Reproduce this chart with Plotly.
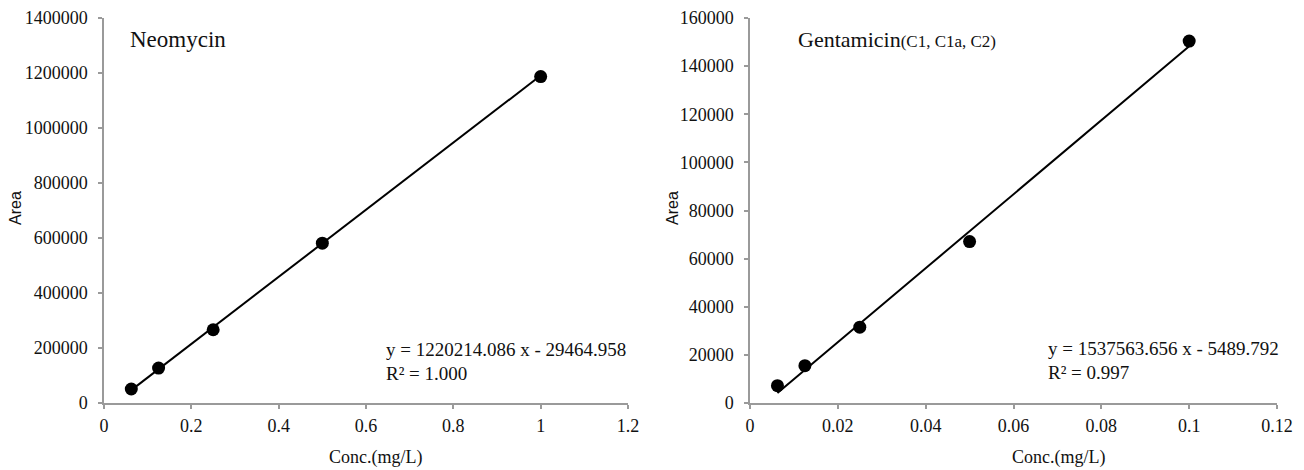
import plotly.graph_objects as go

# ---- data ----
neo_x = [0.0625, 0.125, 0.25, 0.5, 1.0]
neo_y = [50900, 127000, 266400, 581000, 1187000]
neo_slope = 1220214.086
neo_int = -29464.958
neo_r2 = "1.000"

gen_x = [0.00625, 0.0125, 0.025, 0.05, 0.1]
gen_y = [7200, 15500, 31500, 67100, 150400]
gen_slope = 1537563.656
gen_int = -5489.792
gen_r2 = "0.997"

neo_xticks = [0, 0.2, 0.4, 0.6, 0.8, 1.0, 1.2]
neo_xlabels = ["0", "0.2", "0.4", "0.6", "0.8", "1", "1.2"]
neo_yticks = [0, 200000, 400000, 600000, 800000, 1000000, 1200000, 1400000]
gen_xticks = [0, 0.02, 0.04, 0.06, 0.08, 0.1, 0.12]
gen_xlabels = ["0", "0.02", "0.04", "0.06", "0.08", "0.1", "0.12"]
gen_yticks = [0, 20000, 40000, 60000, 80000, 100000, 120000, 140000, 160000]

OFF = 8  # default page body margin
W, H = 1304 - OFF, 470 - OFF
SERIF = "Liberation Serif, Times New Roman, serif"
SANS = "Liberation Sans, Arial, sans-serif"

def px(x):
    return (x - OFF) / W

def py(y):
    return 1 - (y - OFF) / H

fig = go.Figure()

def add_panel(xs, ys, slope, intercept, xa, ya):
    lx = [xs[0], xs[-1]]
    ly = [slope * v + intercept for v in lx]
    fig.add_trace(go.Scatter(x=lx, y=ly, mode="lines", xaxis=xa, yaxis=ya,
                             line=dict(color="black", width=2), showlegend=False,
                             hoverinfo="skip"))
    fig.add_trace(go.Scatter(x=xs, y=ys, mode="markers", xaxis=xa, yaxis=ya,
                             marker=dict(color="black", size=13), showlegend=False))

add_panel(neo_x, neo_y, neo_slope, neo_int, "x", "y")
add_panel(gen_x, gen_y, gen_slope, gen_int, "x2", "y2")

ydom = [py(403), py(18)]
axcommon = dict(showgrid=False, zeroline=False, showline=True, linecolor="#9a9a9a",
                linewidth=1.5, ticks="outside", ticklen=4, tickcolor="#9a9a9a",
                tickwidth=1.5, tickfont=dict(family=SERIF, size=18, color="#111"),
                automargin=False)

fig.update_layout(
    width=W, height=H,
    margin=dict(l=0, r=0, t=0, b=0),
    paper_bgcolor="white", plot_bgcolor="white",
    xaxis=dict(domain=[px(104), px(628)], range=[0, 1.2], tickvals=neo_xticks,
               ticktext=neo_xlabels, anchor="y", ticklabelstandoff=2, **axcommon),
    yaxis=dict(domain=ydom, range=[0, 1400000], tickvals=neo_yticks,
               ticktext=[str(v) for v in neo_yticks], anchor="x", ticklabelstandoff=7,
               **axcommon),
    xaxis2=dict(domain=[px(750), px(1277)], range=[0, 0.12], tickvals=gen_xticks,
                ticktext=gen_xlabels, anchor="y2", ticklabelstandoff=2, **axcommon),
    yaxis2=dict(domain=ydom, range=[0, 160000], tickvals=gen_yticks,
                ticktext=[str(v) for v in gen_yticks], anchor="x2", ticklabelstandoff=7,
                **axcommon),
)

def ann(text, x, y, size, family=SERIF, xanchor="left", textangle=0):
    fig.add_annotation(text=text, x=px(x), y=py(y), xref="paper", yref="paper",
                       xanchor=xanchor, yanchor="middle", showarrow=False,
                       textangle=textangle, align="left",
                       font=dict(family=family, size=size, color="#111"))

# panel titles
ann("Neomycin", 128, 40, 23)
ann("Gentamicin<span style='font-size:17px'>(C1, C1a, C2)</span>", 796, 40, 22)

# axis titles
ann("Conc.(mg/L)", 375, 457, 18, xanchor="center")
ann("Conc.(mg/L)", 1058, 457, 18, xanchor="center")
ann("Area", 15, 208, 16, family=SANS, xanchor="center", textangle=-90)
ann("Area", 672, 208, 16, family=SANS, xanchor="center", textangle=-90)

# equations
ann(f"y = {neo_slope:.3f} x - {abs(neo_int):.3f}", 384, 349, 19)
ann(f"R\u00b2 = {neo_r2}", 384, 373, 19)
ann(f"y = {gen_slope:.3f} x - {abs(gen_int):.3f}", 1046, 348, 19)
ann(f"R\u00b2 = {gen_r2}", 1046, 372, 19)

fig.write_html("out.html")
